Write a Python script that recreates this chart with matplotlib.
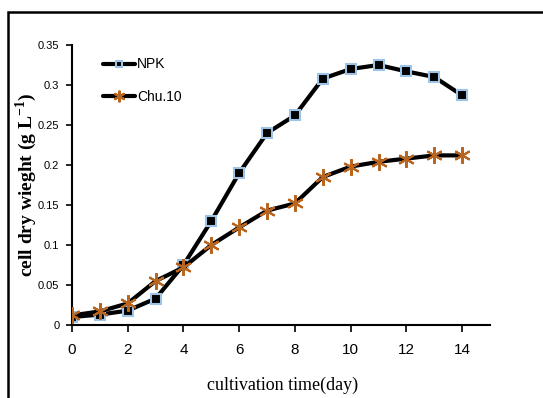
import matplotlib
matplotlib.use("Agg")
import matplotlib.pyplot as plt
from matplotlib.patches import Rectangle

days = [0, 1, 2, 3, 4, 5, 6, 7, 8, 9, 10, 11, 12, 13, 14]
npk = [0.010, 0.013, 0.018, 0.033, 0.075, 0.130, 0.190, 0.240, 0.262, 0.308, 0.320, 0.325, 0.317, 0.310, 0.287]
chu10 = [0.012, 0.017, 0.027, 0.055, 0.072, 0.100, 0.122, 0.143, 0.152, 0.185, 0.198, 0.204, 0.208, 0.212, 0.212]
xticks = [0, 2, 4, 6, 8, 10, 12, 14]
yticks = [0, 0.05, 0.1, 0.15, 0.2, 0.25, 0.3, 0.35]
ytick_labels = ["0", "0.05", "0.1", "0.15", "0.2", "0.25", "0.3", "0.35"]

narrow = ["Liberation Sans", "DejaVu Sans"]
serif = ["Liberation Serif", "DejaVu Serif"]

fig = plt.figure(figsize=(5.43, 3.98), dpi=100)
ax = fig.add_axes([72/543, 1-325/398, (490-72)/543, (325-45)/398])

ax.plot(days, npk, color="black", lw=3, solid_joinstyle="round", solid_capstyle="round",
        marker="s", ms=7, mfc="black", mec="#9dc3e6", mew=1.5, label="NPK", zorder=3)
ax.plot(days, chu10, color="black", lw=3, solid_joinstyle="round", solid_capstyle="round",
        marker=(6, 2, 0), ms=12, mfc="none", mec="#b8651f", mew=1.5, label="Chu.10", zorder=4)

ax.set_xlim(0, 15)
ax.set_ylim(0, 0.35)
ax.set_xticks(xticks)
ax.set_yticks(yticks)
ax.set_yticklabels(ytick_labels)
for s in ["top", "right"]:
    ax.spines[s].set_visible(False)
for s in ["left", "bottom"]:
    ax.spines[s].set_linewidth(1.5)
ax.tick_params(axis="y", direction="out", length=4, width=1.2, labelsize=8, pad=5)
ax.tick_params(axis="x", direction="out", length=5, width=1.2, labelsize=11, pad=8)
for lab in ax.get_xticklabels() + ax.get_yticklabels():
    lab.set_family(narrow)

ax.set_xlabel("cultivation time(day)", family=serif, fontsize=13)
ax.xaxis.set_label_coords((283-72)/418, -(377-325)/280)
ax.set_ylabel(r"cell dry wieght (g L$^{\mathregular{-1}}$)", family=serif, fontsize=14,
              fontweight="bold", va="center")
ax.yaxis.set_label_coords((26-72)/418, (325-185)/280)

leg = ax.legend(loc="upper left", bbox_to_anchor=(0.045, 1.0), frameon=False,
                prop={"family": narrow, "size": 10}, handlelength=2.3,
                handletextpad=0.15, labelspacing=1.3, markerscale=0.7)

fig.patches.append(Rectangle((8/543, -0.1), 1.2, 1.1 - 12/398,
                             transform=fig.transFigure, fill=False,
                             edgecolor="black", lw=1.8))

fig.savefig("out.png", dpi=100)
